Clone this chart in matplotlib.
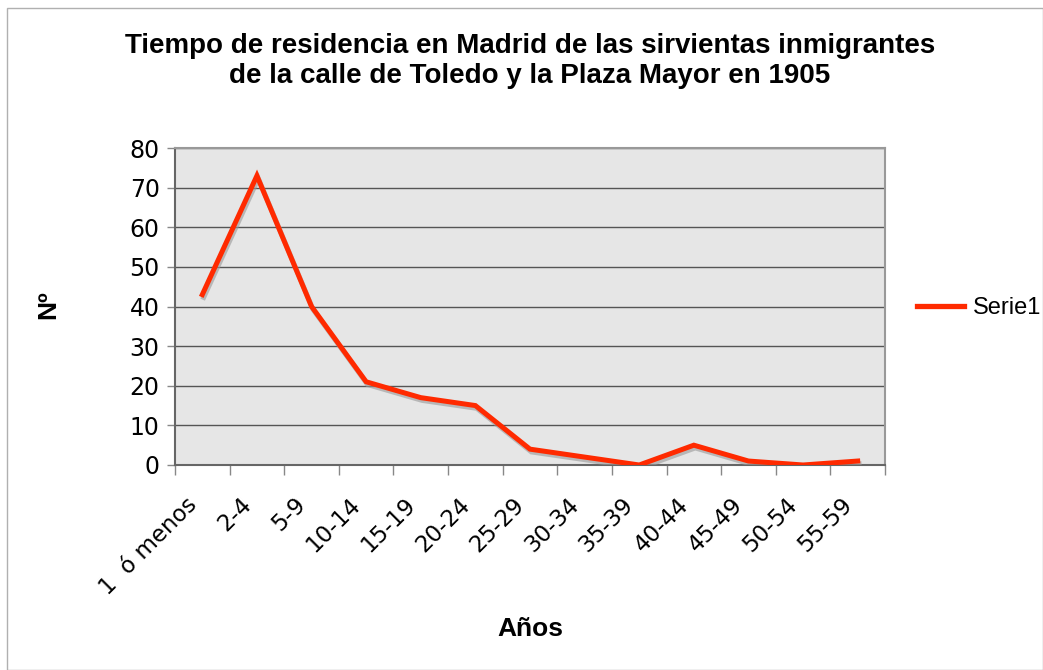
import matplotlib
matplotlib.use("Agg")
import matplotlib.pyplot as plt
import matplotlib.patheffects as pe
import matplotlib.transforms as mtransforms
from matplotlib.patches import Rectangle

categories = ["1  ó menos", "2-4", "5-9", "10-14", "15-19", "20-24", "25-29",
              "30-34", "35-39", "40-44", "45-49", "50-54", "55-59"]
values = [43, 73, 40, 21, 17, 15, 4, 2, 0, 5, 1, 0, 1]
series_name = "Serie1"
title = "Tiempo de residencia en Madrid de las sirvientas inmigrantes\nde la calle de Toledo y la Plaza Mayor en 1905"
xlabel = "Años"
ylabel = "Nº"

plt.rcParams['font.family'] = ['Liberation Sans', 'DejaVu Sans']
tickfont = ['DejaVu Sans']

fig = plt.figure(figsize=(10.43, 6.70), dpi=100)
fig.patches.append(Rectangle((7/1043, 0), 1 - 7/1043, 1 - 8/670, transform=fig.transFigure,
                             fill=False, edgecolor="#b0b0b0", linewidth=1.0))
ax = fig.add_axes([175/1043, 1 - 465/670, (885-175)/1043, (465-148)/670])
ax.set_facecolor("#e6e6e6")

x = list(range(len(categories)))
ax.plot(x, values, color="#ff2a00", linewidth=3.6, solid_joinstyle="miter",
        label=series_name,
        path_effects=[pe.SimpleLineShadow(offset=(1, -2), shadow_color="#999999", alpha=0.6),
                      pe.Normal()], zorder=3)

ax.set_xlim(-0.5, len(categories) - 0.5)
ax.set_ylim(0, 80)
ax.set_yticks(range(0, 81, 10))
ax.set_yticklabels([str(v) for v in range(0, 81, 10)], family=tickfont, fontsize=17)
ax.yaxis.grid(True, color="#555555", linewidth=1.0)
ax.set_axisbelow(True)

ax.set_xticks([i - 0.5 for i in range(len(categories) + 1)])
ax.set_xticklabels([])
ax.set_xticks(x, minor=True)
ax.set_xticklabels(categories, minor=True, rotation=45, ha="right", va="center",
                   rotation_mode="anchor", fontsize=16.5, family=tickfont)
ax.tick_params(axis="x", which="minor", length=0, pad=26)
ax.tick_params(axis="x", which="major", length=7, width=1, color="#888888", direction="out")
ax.tick_params(axis="y", length=6, width=1, color="#888888", pad=5)
shift = mtransforms.ScaledTranslation(-9/100, 0, fig.dpi_scale_trans)
for lbl in ax.get_xticklabels(minor=True):
    lbl.set_transform(lbl.get_transform() + shift)

for s in ["top", "right"]:
    ax.spines[s].set_color("#999999")
    ax.spines[s].set_linewidth(1.5)
for s in ["left", "bottom"]:
    ax.spines[s].set_color("#666666")
    ax.spines[s].set_linewidth(1.5)

fig.text(530/1043, 1 - 61/670, title, ha="center", va="center", fontsize=20,
         fontweight="bold", linespacing=1.2)
fig.text(530/1043, 1 - 629/670, xlabel, ha="center", va="center", fontsize=19, fontweight="bold")
fig.text(48/1043, 1 - 305/670, ylabel, ha="center", va="center", fontsize=19,
         fontweight="bold", rotation=90)

leg = ax.legend(loc="center left", bbox_to_anchor=(896/1043, 1 - 308/670),
                bbox_transform=fig.transFigure, frameon=False, fontsize=17,
                handlelength=2.0, handletextpad=0.35)
for h in leg.get_lines():
    h.set_path_effects([])
    h.set_linewidth(3.8)

fig.savefig("out.png", dpi=100)
